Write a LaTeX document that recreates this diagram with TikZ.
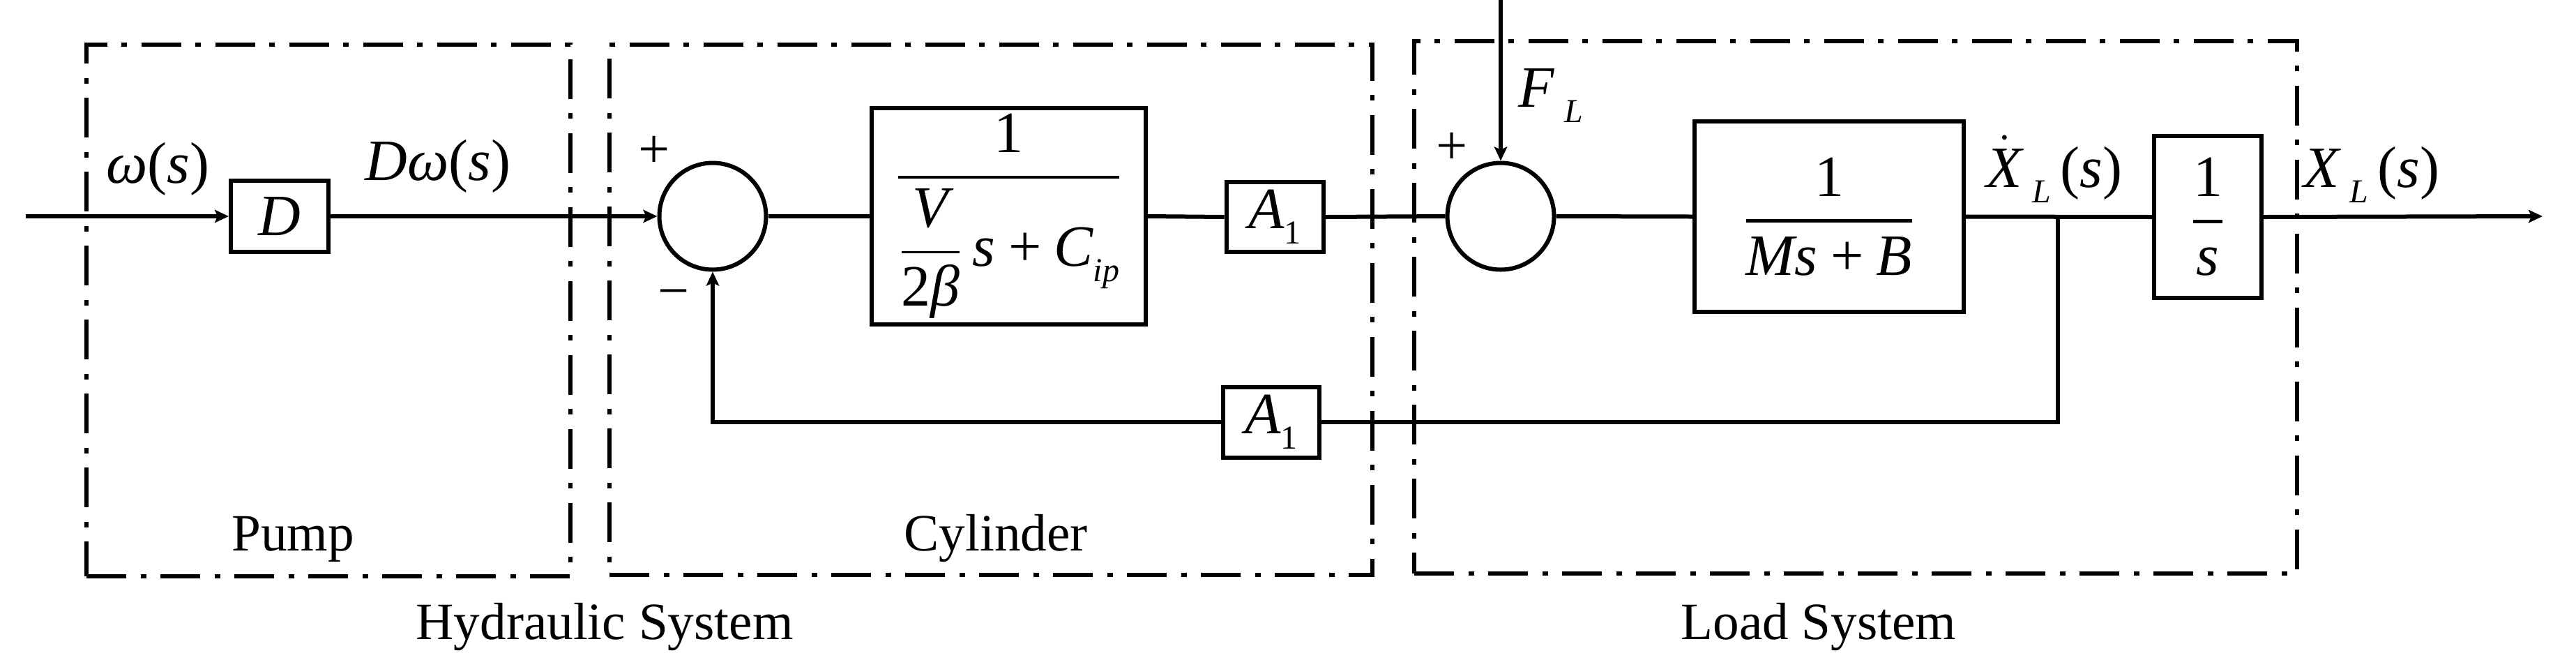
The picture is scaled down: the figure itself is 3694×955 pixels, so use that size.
\documentclass[tikz,border=0pt]{standalone}
\usepackage{amsmath}
\usepackage{fontspec}
\setmainfont{Liberation Serif}
\usetikzlibrary{arrows.meta}
\newcommand\mv[1]{\text{\itshape #1}}
\newcommand\nm[1]{\text{#1}}
\newcommand\sbx[1]{\raisebox{-5.5pt}{\fontsize{12}{12}\selectfont\itshape #1}}
\newcommand\plusop{\mathbin{\text{+}}}
\newcommand\thfrac[2]{\genfrac{}{}{1.2pt}{0}{#1}{#2}}
\newcommand\tnfrac[2]{\genfrac{}{}{0.8pt}{0}{#1}{#2}}
\newcommand\mfont{\fontsize{21}{25}\selectfont}
\newcommand\tfont{\fontsize{18.8}{22}\selectfont}
\begin{document}
\begin{tikzpicture}[x=0.25pt,y=-0.25pt,
  sig/.style={line width=1.5pt},
  arr/.style={-{Stealth[length=5pt,width=4.6pt,inset=1pt]}},
  blk/.style={draw,line width=1.5pt,inner sep=0pt,font=\mfont},
  sumc/.style={draw,circle,line width=1.5pt,minimum size=38.25pt,inner sep=0pt},
  grp/.style={draw,line width=1.5pt,dash pattern=on 14.25pt off 5.25pt on 2pt off 5pt,inner sep=0pt},
  lab/.style={font=\mfont,inner sep=0pt},
  sgn/.style={font=\fontsize{20}{24}\selectfont,inner sep=0pt},
  txt/.style={font=\tfont,inner sep=0pt}]
\useasboundingbox (0,0) rectangle (3694,955);

% group frames
\node[grp,minimum width=173.5pt,minimum height=190.5pt] (pump) at (471,445) {};
\node[grp,minimum width=273.5pt,minimum height=190pt] (cyl) at (1421,444) {};
\node[grp,minimum width=316.5pt,minimum height=190.75pt] (load) at (2661,440.5) {};

% blocks
\node[blk,minimum width=35pt,minimum height=25.5pt] (D) at (401,310) {\itshape D};
\node[sumc] (s1) at (1022,310) {};
\node[blk,minimum width=98.25pt,minimum height=77.5pt] (G1) at (1446.5,310)
  {$\thfrac{\nm{1}}{\tnfrac{\mv{V}}{\nm{2}\mv{β}}\,\mv{s}\plusop\mv{C}\sbx{ip}}$};
\node[blk,minimum width=34.75pt,minimum height=25pt] (A1) at (1828,311) {{\itshape A}\sbx{\upshape 1}};
\node[sumc] (s2) at (2152,310) {};
\node[blk,minimum width=96.5pt,minimum height=68.25pt] (G2) at (2623,310.5)
  {$\thfrac{\nm{1}}{\mv{Ms}\plusop\mv{B}}$};
\node[blk,minimum width=38.5pt,minimum height=58pt] (I) at (3166,311) {$\thfrac{\nm{1}}{\mv{s}}$};
\node[blk,minimum width=34.5pt,minimum height=25.25pt] (A2) at (1823,605) {{\itshape A}\sbx{\upshape 1}};

% signal labels
\node[lab,anchor=base] (lw) at (226,262) {{\itshape ω}({\itshape s})};
\node[lab,anchor=base] (lDw) at (628,258) {{\itshape Dω}({\itshape s})};
\node[sgn] (p1) at (938,218) {+};
\node[sgn] (m1) at (966,429) {−};
\node[sgn] (p2) at (2082,213) {+};
\node[lab,anchor=base west] (lF) at (2177,153) {{\itshape F}\,\sbx{L}};
\node[lab,anchor=base west] (lXd) at (2848,268) {$\dot{\mv{X}}$\,\sbx{L}\,({\itshape s})};
\node[lab,anchor=base west] (lX) at (3303,268) {{\itshape X}\,\sbx{L}\,({\itshape s})};

% group titles
\node[txt,anchor=base] (tp) at (420,789) {Pump};
\node[txt,anchor=base] (tc) at (1428,789) {Cylinder};
\node[txt,anchor=base] (th) at (867,916) {Hydraulic System};
\node[txt,anchor=base] (tl) at (2608,916) {Load System};

% connectors
\coordinate (in) at (37,310);
\coordinate (br) at (2951,310);
\coordinate (out) at (3646,310);
\coordinate (fl) at (2152,0);
\draw[sig,arr] (in) -- (D.west);
\draw[sig,arr] (D.east) -- (s1.west);
\draw[sig] (s1.east) -- (G1.west);
\draw[sig] (G1.east) -- (A1.west);
\draw[sig] (A1.east) -- (s2.west);
\draw[sig] (s2.east) -- (G2.west);
\draw[sig] (G2.east) -- (I.west);
\draw[sig,arr] (I.east) -- (out);
\draw[sig] (br) |- (A2.east);
\draw[sig,arr] (A2.west) -| (s1.south);
\draw[sig,arr] (fl) -- (s2.north);
\end{tikzpicture}
\end{document}
